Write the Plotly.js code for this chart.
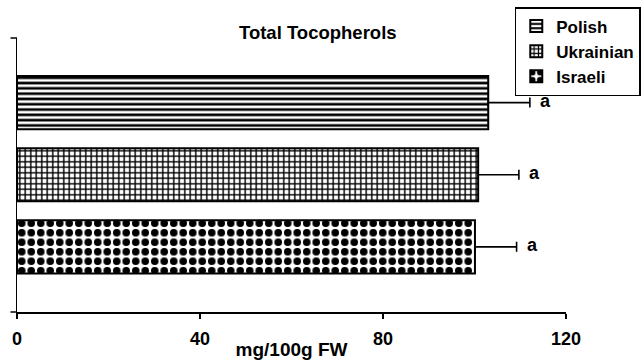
<!DOCTYPE html>
<html>
<head>
<meta charset="utf-8">
<script src="https://cdn.plot.ly/plotly-3.0.1.min.js"></script>
<style>
  html, body { margin: 0; padding: 0; background: #fff; }
  #chart { width: 642px; height: 360px; }
</style>
</head>
<body>
<div id="chart"></div>
<script>
// ---- data ----
const groups = ['Polish', 'Ukrainian', 'Israeli'];
const means = [103.0, 100.8, 100.1];          // mg/100g FW
const errors = [9.1, 8.9, 9.1];               // + error
const letters = ['a', 'a', 'a'];              // significance letters
const xTicks = [0, 40, 80, 120];
const chartTitle = 'Total Tocopherols';
const xTitle = 'mg/100g FW';

// ---- styling ----
const FONT = '"Liberation Sans", Arial, Helvetica, sans-serif';
const patterns = [
  { shape: '-', size: 5.3, solidity: 0.5, fgcolor: '#000', bgcolor: '#fff', fillmode: 'replace' },
  { shape: '+', size: 5.5, solidity: 0.45, fgcolor: '#000', bgcolor: '#fff', fillmode: 'replace' },
  { shape: '.', size: 9.5, solidity: 0.5, fgcolor: '#000', bgcolor: '#fff', fillmode: 'replace' }
];

const traces = groups.map((g, i) => ({
  type: 'bar',
  orientation: 'h',
  name: g,
  x: [means[i]],
  y: [g],
  width: 0.735,
  marker: {
    color: '#fff',
    pattern: patterns[i],
    line: { color: '#000', width: 2 }
  },
  error_x: {
    type: 'data',
    symmetric: false,
    array: [errors[i]],
    arrayminus: [0],
    color: '#000',
    thickness: 1.6,
    width: 5
  },
  hoverinfo: 'x+name'
}));

const annotations = groups.map((g, i) => ({
  x: means[i] + errors[i],
  y: g,
  xref: 'x', yref: 'y',
  text: letters[i],
  showarrow: false,
  xanchor: 'left',
  xshift: 8,
  yshift: 2,
  font: { family: FONT, size: 18, color: '#000', weight: 'bold' }
}));

const layout = {
  width: 642,
  height: 360,
  margin: { l: 16.5, r: 75.7, t: 38, b: 48, pad: 0, autoexpand: false },
  paper_bgcolor: '#fff',
  plot_bgcolor: '#fff',
  barmode: 'overlay',
  showlegend: true,
  title: {
    text: chartTitle,
    x: 0.495, xref: 'container', xanchor: 'center',
    y: 1 - 32.5 / 360, yref: 'container', yanchor: 'middle',
    font: { family: FONT, size: 18.5, color: '#000', weight: 'bold' }
  },
  xaxis: {
    range: [0, 120],
    tickmode: 'array',
    tickvals: xTicks,
    ticktext: xTicks.map(String),
    ticks: 'outside',
    ticklen: 5,
    tickwidth: 1.5,
    tickcolor: '#000',
    showline: true,
    linecolor: '#000',
    linewidth: 1.5,
    showgrid: false,
    zeroline: false,
    fixedrange: true,
    ticklabelstandoff: 5,
    automargin: false,
    tickfont: { family: FONT, size: 18, color: '#000', weight: 'bold' },
    title: {
      text: xTitle,
      standoff: 0,
      font: { family: FONT, size: 19, color: '#000', weight: 'bold' }
    }
  },
  yaxis: {
    type: 'category',
    categoryorder: 'array',
    categoryarray: groups.slice().reverse(),
    range: [-0.903, 2.896],
    showticklabels: false,
    ticks: '',
    showline: true,
    linecolor: '#000',
    linewidth: 1.5,
    showgrid: false,
    zeroline: false,
    automargin: false,
    fixedrange: true
  },
  legend: {
    x: (515 - 16.5) / 549.8,
    y: (312 - 7) / 274,
    xanchor: 'left',
    yanchor: 'top',
    traceorder: 'normal',
    bgcolor: '#fff',
    bordercolor: '#000',
    borderwidth: 1.5,
    itemwidth: 30,
    font: { family: FONT, size: 17, color: '#000', weight: 'bold' }
  },
  shapes: [
    { type: 'line', xref: 'paper', yref: 'paper', x0: -6.5 / 549.8, x1: 0, y0: 1, y1: 1,
      line: { color: '#000', width: 1.5 } },
    { type: 'line', xref: 'paper', yref: 'paper', x0: -6.5 / 549.8, x1: 0, y0: 0, y1: 0,
      line: { color: '#000', width: 1.5 } }
  ],
  annotations: annotations
};

Plotly.newPlot('chart', traces, layout, { displayModeBar: false, staticPlot: true });
</script>
</body>
</html>
